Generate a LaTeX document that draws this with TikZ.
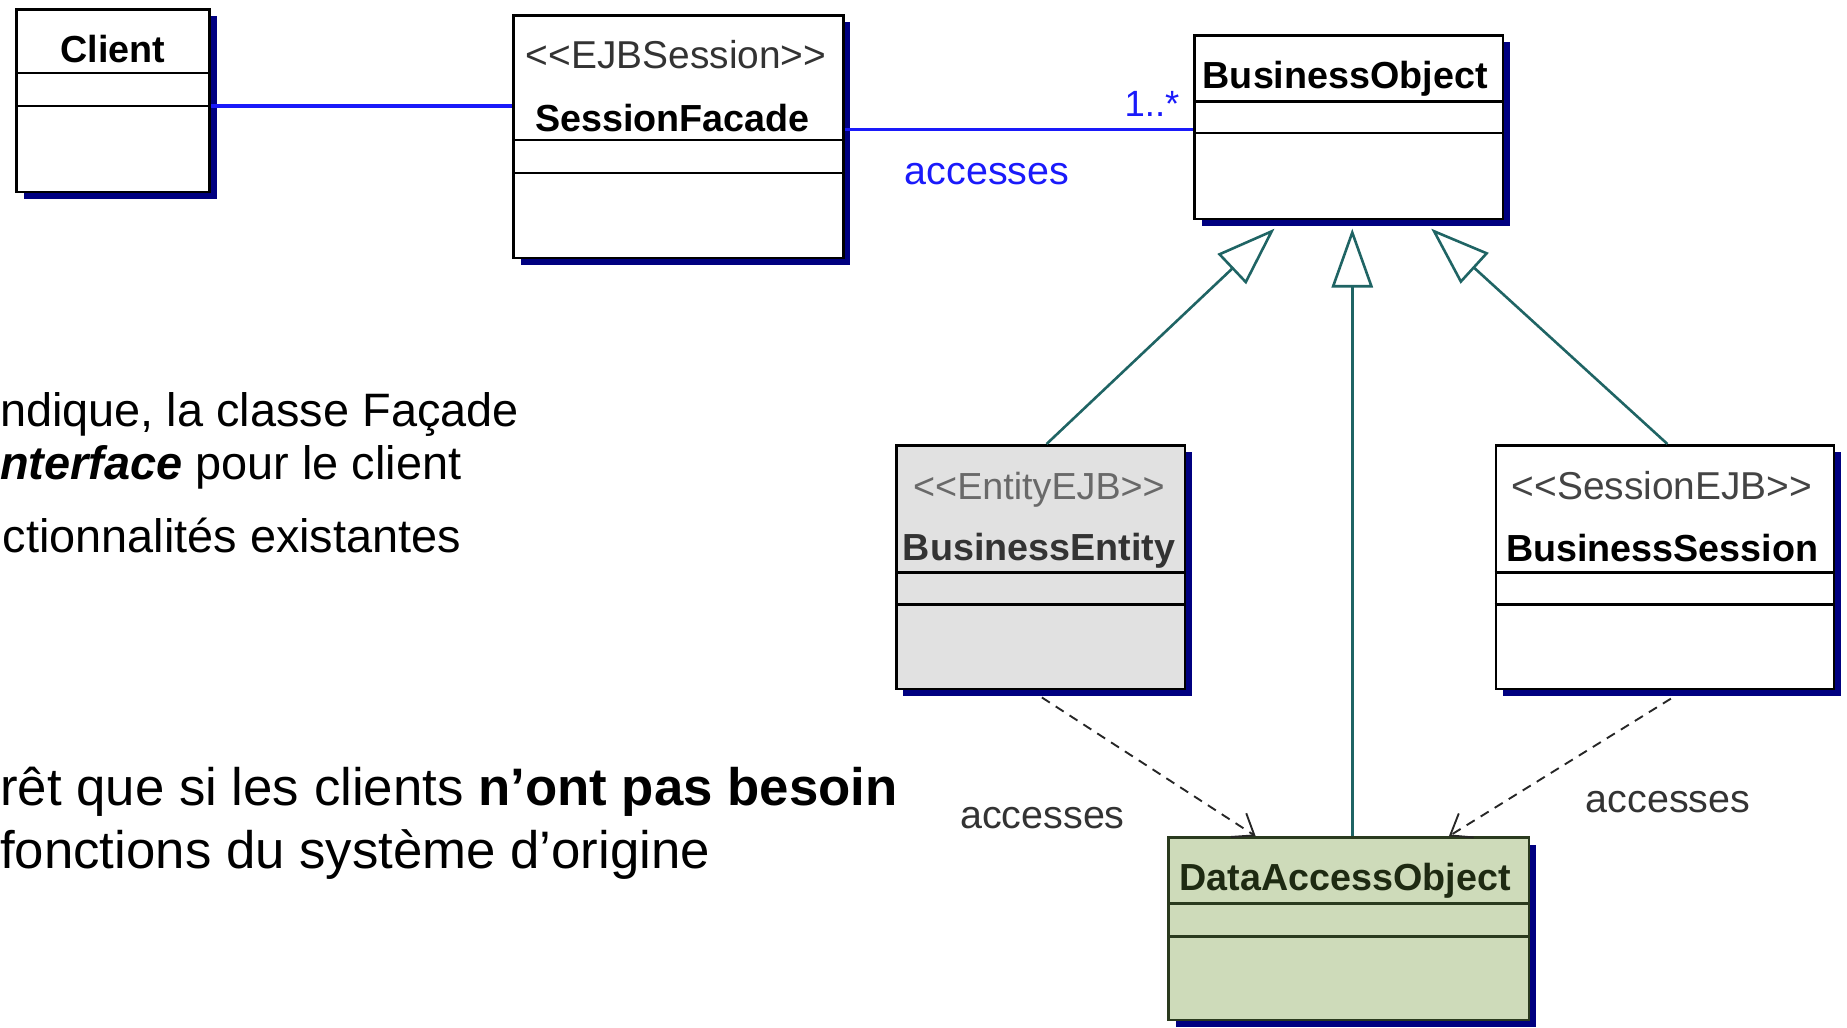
\documentclass[tikz,border=0pt]{standalone}
\usepackage{fontspec}
\setmainfont{Liberation Sans}
\usetikzlibrary{arrows.meta,shadows}

\definecolor{navyshade}{HTML}{000080}
\definecolor{assocblue}{HTML}{1A1AFA}
\definecolor{genteal}{HTML}{1F6464}
\definecolor{entitygray}{HTML}{E1E1E1}
\definecolor{entitytext}{HTML}{333333}
\definecolor{stereogray}{HTML}{444444}
\definecolor{daogreen}{HTML}{CEDBBA}
\definecolor{daoline}{HTML}{2A3A1E}
\definecolor{daotext}{HTML}{1E2A12}

% stereotype brackets written as separate characters (no guillemet ligature)
\newcommand\stopen{<{}<}
\newcommand\stclose{>{}>}

\tikzset{
  clsbox/.style={rectangle, draw=black, line width=2.2pt, fill=white, inner sep=0pt,
    general shadow={fill=navyshade, shadow xshift=6pt, shadow yshift=-6pt}},
  divider/.style={draw=black, line width=2.2pt},
  clsname/.style={font=\fontsize{32}{36}\selectfont\bfseries, inner sep=0pt, anchor=base},
  stereo/.style={font=\fontsize{33}{38}\selectfont, text=stereogray, inner sep=0pt, anchor=base},
  rolelabel/.style={font=\fontsize{33.5}{38}\selectfont, inner sep=0pt, anchor=base},
  assoc/.style={draw=assocblue, line width=2.6pt},
  gen/.style={draw=genteal, line width=2.2pt,
    -{Triangle[open, length=50pt, width=35pt, fill=white, line width=2.2pt]}},
  dep/.style={draw=black!85, line width=1.6pt, dash pattern=on 8pt off 6pt,
    -{Straight Barb[length=16pt, width=24pt, line width=1.6pt]}},
  bodysmall/.style={font=\fontsize{39.8}{48}\selectfont, inner sep=0pt, anchor=base west},
  bodylarge/.style={font=\fontsize{44.8}{52}\selectfont, inner sep=0pt, anchor=base west},
}

\begin{document}
\begin{tikzpicture}[x=1pt, y=-1pt]
\useasboundingbox (0,0) rectangle (1568,872);
\clip (0,0) rectangle (1568,872);

% ---- class boxes ----
\node[clsbox, minimum width=164pt, minimum height=155pt] (client) at (96,85.5) {};
\node[clsbox, minimum width=280pt, minimum height=206pt] (facade) at (576,116) {};
\node[clsbox, minimum width=262pt, minimum height=156pt] (bo) at (1145,108) {};
\node[clsbox, fill=entitygray, minimum width=245pt, minimum height=207pt] (be) at (883.5,481.5) {};
\node[clsbox, minimum width=287pt, minimum height=207pt] (bs) at (1413.5,481.5) {};
\node[clsbox, draw=daoline, fill=daogreen, minimum width=306pt, minimum height=155pt] (dao) at (1145,788.5) {};

% ---- compartment dividers ----
\draw[divider] (client.west |- 0,62) -- (client.east |- 0,62);
\draw[divider] (client.west |- 0,90) -- (client.east |- 0,90);
\draw[divider] (facade.west |- 0,119) -- (facade.east |- 0,119);
\draw[divider] (facade.west |- 0,147) -- (facade.east |- 0,147);
\draw[divider] (bo.west |- 0,86) -- (bo.east |- 0,86);
\draw[divider] (bo.west |- 0,113) -- (bo.east |- 0,113);
\draw[divider] (be.west |- 0,486) -- (be.east |- 0,486);
\draw[divider] (be.west |- 0,513) -- (be.east |- 0,513);
\draw[divider] (bs.west |- 0,486) -- (bs.east |- 0,486);
\draw[divider] (bs.west |- 0,513) -- (bs.east |- 0,513);
\draw[divider, draw=daoline] (dao.west |- 0,767) -- (dao.east |- 0,767);
\draw[divider, draw=daoline] (dao.west |- 0,795) -- (dao.east |- 0,795);

% ---- class names and stereotypes ----
\node[clsname] (clientname) at (96,53) {Client};
\node[stereo, text=black!80] (facadest) at (574,58) {\stopen EJBSession\stclose};
\node[clsname] (facadename) at (571,112) {SessionFacade};
\node[clsname] (boname) at (1142,75) {BusinessObject};
\node[stereo, text=stereogray!80, font=\fontsize{32}{38}\selectfont] (best) at (882,424) {\stopen EntityEJB\stclose};
\node[clsname, text=entitytext] (bename) at (882,476) {BusinessEntity};
\node[stereo] (bsst) at (1411,424) {\stopen SessionEJB\stclose};
\node[clsname] (bsname) at (1411,477) {BusinessSession};
\node[clsname, text=daotext] (daoname) at (1142,756) {DataAccessObject};

% ---- associations ----
\draw[assoc] (client.east |- 0,90) -- (facade.west |- 0,90);
\draw[assoc] (facade.east |- 0,110) -- (bo.west |- 0,110);
\node[rolelabel, text=assocblue, font=\fontsize{31}{36}\selectfont] (mult) at (978,99) {1..*};
\node[rolelabel, text=assocblue] (acc1) at (838,157) {accesses};

% ---- generalizations ----
\draw[gen] ([xshift=5pt]be.north) -- ([xshift=-63pt,yshift=-7pt]bo.south);
\draw[gen] ([xshift=3pt]dao.north) -- ([xshift=3pt,yshift=-7pt]bo.south);
\draw[gen] ([xshift=2pt]bs.north) -- ([xshift=70pt,yshift=-7pt]bo.south);

% ---- dependencies ----
\draw[dep] ([xshift=1pt,yshift=-6pt]be.south) -- ([xshift=-79pt]dao.north);
\draw[dep] ([xshift=5pt,yshift=-7pt]bs.south) -- ([xshift=85pt]dao.north);
\node[rolelabel, text=black!80] (acc2) at (885,703) {accesses};
\node[rolelabel, text=black!80] (acc3) at (1416,690) {accesses};

% ---- body text ----
\node[bodysmall] (line1) at (0,362) {ndique, la classe Façade};
\node[bodysmall] (line2) at (0,407) {\textbf{\textit{nterface}} pour le client};
\node[bodysmall] (line3) at (2,469) {ctionnalités existantes};
\node[bodylarge] (line4) at (0,684) {rêt que si les clients \textbf{n’ont pas besoin}};
\node[bodylarge] (line5) at (0,737) {fonctions du système d’origine};
\end{tikzpicture}
\end{document}
